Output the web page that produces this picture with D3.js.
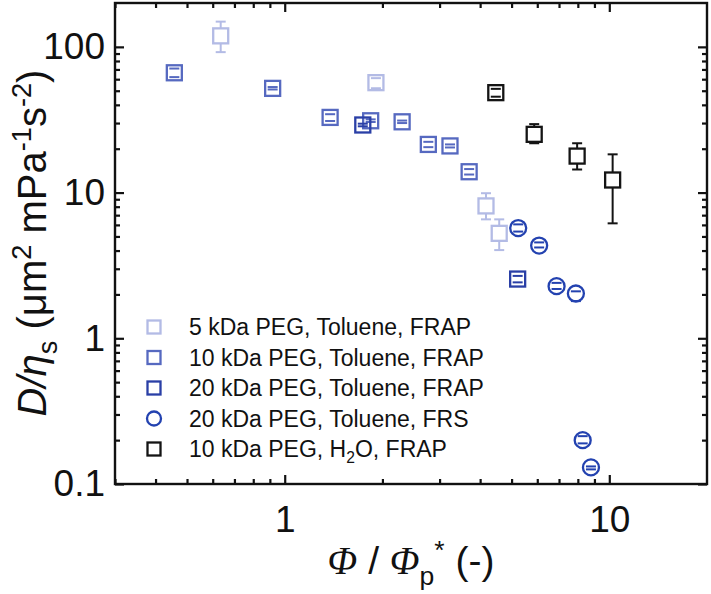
<!DOCTYPE html>
<html><head><meta charset="utf-8">
<script src="https://cdn.jsdelivr.net/npm/d3@7"></script>
<style>body{margin:0;background:#fff}</style>
</head><body>
<svg id="c" width="711" height="594" xmlns="http://www.w3.org/2000/svg"></svg>
<script>
// ---- data ----
const xMajor=[1,10];
const yMajor=[0.1,1,10,100];
const xMinor=[0.3,0.4,0.5,0.6,0.7,0.8,0.9,2,3,4,5,6,7,8,9];
const yMinor=[0.2,0.3,0.4,0.5,0.6,0.7,0.8,0.9,2,3,4,5,6,7,8,9,20,30,40,50,60,70,80,90];

const peg5_x=[0.635,1.91,4.17,4.58];
const peg5_y=[119,56.8,8.1,5.25];
const peg5_lo=[92,52,6.55,4.03];
const peg5_hi=[149,61,9.9,6.55];

const peg10_x=[0.457,0.918,1.38,1.84,2.30,2.77,3.23,3.70];
const peg10_y=[66.4,51.9,32.8,31.1,30.6,21.4,20.9,13.9];
const peg10_lo=[62,51,31,30.5,30,20.5,20.4,13.3];
const peg10_hi=[71,53,34.5,31.8,31.2,22.3,21.4,14.5];

const peg20_x=[1.74,5.22];
const peg20_y=[29.1,2.55];
const peg20_lo=[28.5,2.42];
const peg20_hi=[29.7,2.68];

const frs_x=[5.24,6.08,6.88,7.89,8.28,8.78];
const frs_y=[5.71,4.33,2.28,2.03,0.200,0.130];
const frs_lo=[5.4,4.2,2.18,1.8,0.19,0.126];
const frs_hi=[6.05,4.55,2.4,2.1,0.213,0.132];

const h2o_x=[4.47,5.87,7.96,10.24];
const h2o_y=[48.5,25.1,17.8,12.2];
const h2o_lo=[45.5,21.8,14.4,6.15];
const h2o_hi=[51.5,29.5,21.8,18.3];

const legendLabels=["5 kDa PEG, Toluene, FRAP","10 kDa PEG, Toluene, FRAP","20 kDa PEG, Toluene, FRAP","20 kDa PEG, Toluene, FRS","10 kDa PEG, H2O, FRAP"];

const series=[
  {x:peg5_x,y:peg5_y,lo:peg5_lo,hi:peg5_hi,color:"#b3bbe5",shape:"square",label:legendLabels[0]},
  {x:peg10_x,y:peg10_y,lo:peg10_lo,hi:peg10_hi,color:"#5669c0",shape:"square",label:legendLabels[1]},
  {x:peg20_x,y:peg20_y,lo:peg20_lo,hi:peg20_hi,color:"#2a3fa6",shape:"square",label:legendLabels[2]},
  {x:frs_x,y:frs_y,lo:frs_lo,hi:frs_hi,color:"#2342b0",shape:"circle",label:legendLabels[3]},
  {x:h2o_x,y:h2o_y,lo:h2o_lo,hi:h2o_hi,color:"#141414",shape:"square",label:legendLabels[4]}
];

// ---- layout ----
const FONT="'Liberation Sans', Arial, sans-serif";
const svg=d3.select("#c");
const X0=115,X1=707,Y0=3,Y1=484;
const x=d3.scaleLog().domain([0.3,20]).range([X0,X1]);
const y=d3.scaleLog().domain([0.1,200]).range([Y1,Y0]);
const fmt=d=>d3.format("~g")(d);

function ax(gen,tr,vals,size,labels,pad){
  const g=svg.append("g").attr("transform",tr)
    .call(gen.tickValues(vals).tickSize(size).tickPadding(pad||0).tickFormat(labels?fmt:()=>""));
  g.select(".domain").remove();
  g.selectAll("line").attr("stroke","#111").attr("stroke-width",2.2);
  g.selectAll("text").attr("font-family",FONT).attr("font-size",37).attr("fill","#111");
  return g;
}
// bottom
ax(d3.axisBottom(x),`translate(0,${Y1})`,xMajor,-9,true,22);
ax(d3.axisBottom(x),`translate(0,${Y1})`,xMinor,-5,false);
// top
ax(d3.axisTop(x),`translate(0,${Y0})`,xMajor,-9,false);
ax(d3.axisTop(x),`translate(0,${Y0})`,xMinor,-5,false);
// left
ax(d3.axisLeft(y),`translate(${X0},0)`,yMajor,-9,true,10);
ax(d3.axisLeft(y),`translate(${X0},0)`,yMinor,-5,false);
// right
ax(d3.axisRight(y),`translate(${X1},0)`,yMajor,-9,false);
ax(d3.axisRight(y),`translate(${X1},0)`,yMinor,-5,false);

svg.append("rect").attr("x",X0).attr("y",Y0).attr("width",X1-X0).attr("height",Y1-Y0)
  .attr("fill","none").attr("stroke","#111").attr("stroke-width",2.4);

// ---- markers ----
const HS=7.5, CAP=5;
function marker(g,shape,cx,cy,color,hs){
  if(shape==="square"){
    g.append("rect").attr("x",cx-hs).attr("y",cy-hs).attr("width",2*hs).attr("height",2*hs)
      .attr("fill","none").attr("stroke",color).attr("stroke-width",2.3);
  }else{
    g.append("circle").attr("cx",cx).attr("cy",cy).attr("r",hs+0.5)
      .attr("fill","none").attr("stroke",color).attr("stroke-width",2.3);
  }
}
const pg=svg.append("g");
series.forEach(s=>{
  s.x.forEach((xv,i)=>{
    const cx=x(xv), cy=y(s.y[i]), ph=y(s.hi[i]), pl=y(s.lo[i]);
    const g=pg.append("g");
    const ln=(x1,y1,x2,y2)=>g.append("line").attr("x1",x1).attr("y1",y1).attr("x2",x2).attr("y2",y2)
      .attr("stroke",s.color).attr("stroke-width",2);
    if(ph<cy-HS) ln(cx,cy-HS,cx,ph);
    if(pl>cy+HS) ln(cx,cy+HS,cx,pl);
    ln(cx-CAP,ph,cx+CAP,ph);
    ln(cx-CAP,pl,cx+CAP,pl);
    marker(g,s.shape,cx,cy,s.color,HS);
  });
});

// ---- rich text helper ----
function rich(t,parts,fs){
  let shift=0;
  parts.forEach(p=>{
    const ts=t.append("tspan").text(p.t);
    let target=0,size=fs;
    if(p.k==="sub"){target=fs*0.28;size=fs*0.68;}
    if(p.k==="sup"){target=-fs*0.38;size=fs*0.68;}
    ts.attr("dy",target-shift).attr("font-size",size);
    shift=target;
    if(p.i) ts.attr("font-style","italic");
    if(p.f) ts.attr("font-family",p.f);
  });
}

// ---- legend ----
const lg=svg.append("g");
series.forEach((s,i)=>{
  const cy=327+i*30.5;
  marker(lg,s.shape,154,cy,s.color,6.5);
  const t=lg.append("text").attr("x",189).attr("y",cy+8).attr("font-family",FONT).attr("font-size",23).attr("fill","#111");
  if(s.label.indexOf("H2O")>=0){
    const [a,b]=s.label.split("H2O");
    rich(t,[{t:a+"H"},{t:"2",k:"sub"},{t:"O"+b}],23);
  }else t.text(s.label);
});

// ---- axis titles ----
const yt=svg.append("text").attr("transform","translate(46,243) rotate(-90)")
  .attr("text-anchor","middle").attr("font-family",FONT).attr("font-size",40).attr("fill","#111");
rich(yt,[{t:"D",i:true},{t:"/",i:true},{t:"η",i:true},{t:"s",k:"sub"},{t:" (μm"},{t:"2",k:"sup"},{t:" mPa"},{t:"-1",k:"sup"},{t:"s"},{t:"-2",k:"sup"},{t:")"}],40);

const xt=svg.append("text").attr("x",411).attr("y",574)
  .attr("text-anchor","middle").attr("font-family",FONT).attr("font-size",39).attr("fill","#111");
rich(xt,[{t:"Φ",i:true,f:"'Liberation Serif', serif"},{t:" / "},{t:"Φ",i:true,f:"'Liberation Serif', serif"},{t:"p",k:"sub"},{t:"*",k:"sup"},{t:" (-)"}],39);
</script>
</body></html>
